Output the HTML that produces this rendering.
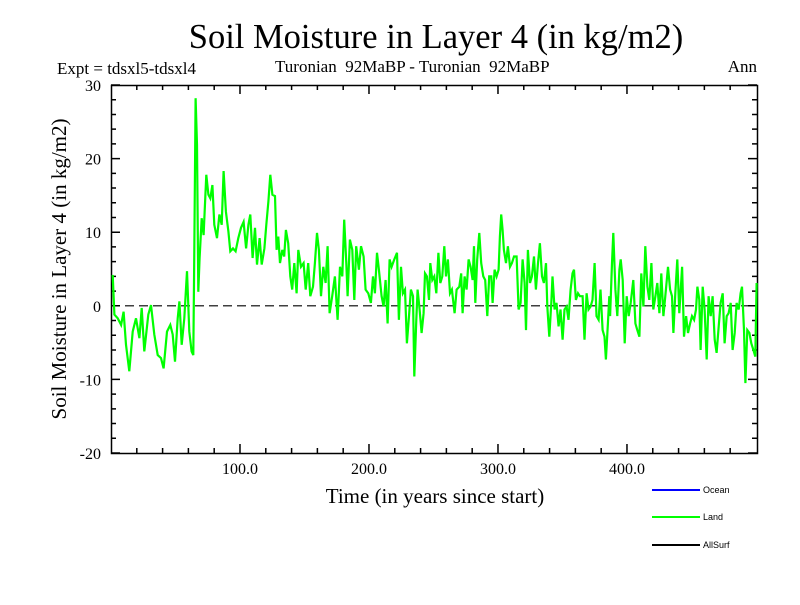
<!DOCTYPE html>
<html><head><meta charset="utf-8"><style>
body{margin:0;background:#fff;}
svg text{font-family:"Liberation Serif",serif;white-space:pre;}
</style></head><body>
<svg id="c" width="800" height="600" viewBox="0 0 800 600" xmlns="http://www.w3.org/2000/svg">
<rect width="800" height="600" fill="#fff"/>
<text x="436" y="48" font-size="34.5" text-anchor="middle">Soil Moisture in Layer 4 (in kg/m2)</text>
<text x="57" y="74" font-size="17">Expt = tdsxl5-tdsxl4</text>
<text x="275" y="72" font-size="17" xml:space="preserve">Turonian  92MaBP - Turonian  92MaBP</text>
<text x="757" y="72" font-size="17" text-anchor="end">Ann</text>
<text x="435" y="503" font-size="21" text-anchor="middle">Time (in years since start)</text>
<text transform="translate(66,269) rotate(-90)" font-size="21" text-anchor="middle">Soil Moisture in Layer 4 (in kg/m2)</text>
<g id="axes"></g>
<g id="series"></g>
<g>
<line x1="652" y1="490" x2="700" y2="490" stroke="#0000ff" stroke-width="2"/>
<text x="703" y="493" font-size="9" style="font-family:'Liberation Sans',sans-serif">Ocean</text>
<line x1="652" y1="517" x2="700" y2="517" stroke="#00ff00" stroke-width="2"/>
<text x="703" y="520" font-size="9" style="font-family:'Liberation Sans',sans-serif">Land</text>
<line x1="652" y1="545" x2="700" y2="545" stroke="#000" stroke-width="2"/>
<text x="703" y="548" font-size="9" style="font-family:'Liberation Sans',sans-serif">AllSurf</text>
</g>
</svg>
<script>
const years=[1.3,2.6,5.2,7.8,9.8,11.6,14.2,16.8,19.4,22.0,23.8,25.8,28.9,31.0,33.6,36.2,38.8,40.8,43.4,46.0,47.8,49.6,51.7,53.0,54.8,56.8,58.9,60.7,62.5,63.8,64.6,65.6,66.7,67.7,68.7,70.3,71.8,73.9,75.5,77.0,78.6,80.1,82.2,84.0,85.8,87.3,89.1,91.0,92.5,94.6,96.6,98.7,100.8,102.8,104.7,106.5,108.0,109.8,111.6,113.2,115.2,116.8,118.9,120.4,122.0,123.5,125.1,
127.1,128.4,129.7,131.0,132.8,134.3,135.6,137.4,139.0,140.5,142.1,143.9,145.2,147.3,149.3,150.9,152.9,154.5,156.6,158.1,159.7,161.2,162.8,164.6,166.4,167.9,169.5,171.5,173.6,175.7,177.5,179.3,180.8,182.4,183.4,185.2,187.1,188.6,190.1,192.2,193.8,195.8,197.4,199.5,201.5,203.1,204.6,206.2,207.7,209.8,211.3,212.9,214.4,216.0,217.5,219.6,221.7,223.2,224.8,226.3,227.9,229.4,231.0,232.5,234.1,235.1,236.7,237.7,239.2,240.8,242.3,243.4,244.9,246.5,247.5,249.1,250.6,252.2,253.8,255.3,256.8,258.4,
259.7,261.2,262.8,264.3,266.4,267.9,270.0,271.5,272.6,274.1,275.7,277.2,278.8,280.3,281.4,282.4,283.9,285.5,287.0,288.6,290.1,291.7,293.2,294.8,295.8,297.4,298.9,300.5,301.5,302.5,303.6,304.6,306.2,307.7,309.3,310.8,312.4,314.4,316.0,317.5,319.1,320.6,321.7,323.2,324.8,326.3,327.9,329.4,331.0,332.5,334.1,335.6,337.2,338.2,339.8,341.3,342.3,343.9,345.4,347.0,348.5,350.1,351.6,353.2,354.7,356.3,357.8,358.9,360.4,362.0,363.5,365.6,367.1,368.7,370.2,371.8,373.3,374.9,376.4,378.0,379.5,381.1,382.6,383.7,385.2,386.3,
386.9,388.4,389.4,391.0,392.5,394.1,395.1,396.7,398.2,399.8,401.3,402.9,404.9,406.5,408.0,409.6,411.1,412.7,414.2,415.8,417.3,418.9,420.4,422.0,423.5,425.1,426.6,428.2,429.7,431.8,433.4,434.9,436.0,437.5,439.0,440.6,442.7,444.2,445.8,447.3,448.9,450.4,452.0,453.5,454.6,456.1,457.1,458.7,460.2,461.8,463.3,464.9,466.4,468.0,469.5,471.1,472.6,474.2,475.7,477.3,478.8,480.4,481.9,483.5,485.0,486.6,488.1,489.2,490.7,491.8,493.3,494.9,496.4,498.0,499.5,500.5];
const values=[4.2,-1.2,-1.7,-2.6,-0.8,-5.3,-8.9,-3.5,-1.7,-4.4,-0.3,-6.2,-1.2,0.1,-3.9,-6.7,-7.1,-8.5,-3.5,-2.6,-3.9,-7.6,-1.7,0.6,-5.3,-1.7,4.7,-3.5,-6.2,-6.7,7.4,28.2,21.9,1.9,6.5,11.9,9.6,17.8,15.1,14.6,16.4,11,9.2,12.4,11,18.3,12.8,10.1,7.4,7.8,7.4,9.2,10.6,11.4,7.8,11,12.4,6.5,10.6,5.6,9.2,5.6,7.8,11,14.2,17.8,15.1,
14.9,7.6,9.4,5.8,7.6,6.7,10.3,8.5,4.0,2.2,5.8,1.7,7.6,5.3,5.8,2.2,5.8,1.3,2.6,5.8,9.9,7.6,1.3,5.3,3.1,8.1,-1,1.3,4,-1.9,5.3,4,11.7,5.8,1.3,9,7.6,0.8,8.1,4.9,8.1,6.7,2.2,1.7,0.4,4,1.7,7.2,4.9,1.3,-0.1,3.5,-2.4,6.3,5.3,6.3,7.2,-1.9,5.3,1.7,2.2,-5.1,-1.4,2.2,1.3,-9.6,-1.9,2.2,-0.5,-3.7,-1,4.4,4,0.8,5.8,3.5,4,1.7,7.2,3.1,4.0,8.1,
4,6.3,1.7,2.2,-1,2.2,2.6,4.4,-1,4,2.2,6.3,5.3,3.5,8.1,0.4,6.3,9.9,5.8,4,3.5,-1.4,4,4,0.4,4.9,4,4.9,9.4,12.4,10.3,7.6,5.8,8.1,5.3,5.8,6.7,6.7,-0.5,0.4,6.3,3.1,-3.3,7.6,3.1,4,6.7,2.2,5.8,8.5,4,3.1,5.8,-0.1,-4.2,0.4,4,-0.5,0.4,-2.8,-0.5,-4.6,-0.5,-0.1,-1.9,2.2,4.4,4.9,0.8,1.7,1.3,1.3,-4.6,1.7,-0.5,-0.1,0.8,5.8,-1.4,-1.9,2.2,-3.3,-4.2,-7.3,-2.4,1.3,
-1.4,5.8,9.9,2.2,-1.4,4.9,6.3,3.5,-5.1,1.3,-1.4,0.4,3.5,-2.4,-3.3,-4.2,4.4,-0.1,8.1,2.6,0.8,5.8,-0.5,1.3,3.1,-1.0,4.4,-1.4,1.3,5.3,2.2,1.3,-3.7,1.7,6.3,-1.0,5.3,-4.2,-1.4,-3.7,-2.4,-1.4,-1.9,-0.5,2.6,0.8,-6.0,2.6,-0.5,-7.3,1.3,-1.4,1.3,-4.6,-6.4,-2.8,0.4,1.7,-5.1,-1.4,-1.0,0.4,-6.0,-3.7,0.4,-0.5,1.7,2.6,-3.3,-10.5,-3.3,-3.7,-5.1,-6.0,-6.9,3.1];
const yTicks=[30,20,10,0,-10,-20];
const xTicks=[100,200,300,400];
const xTickLabels=["100.0","200.0","300.0","400.0"];

const X0=111,X1=757,Y0=85,Y1=453,xMin=0,xMax=500.8,yMin=-20,yMax=30;
function sx(v){return X0+(v-xMin)/(xMax-xMin)*(X1-X0);}
function sy(v){return Y1-(v-yMin)/(yMax-yMin)*(Y1-Y0);}
const NS='http://www.w3.org/2000/svg';
const axes=document.getElementById('axes');
function mk(t,a,p){const e=document.createElementNS(NS,t);for(const k in a)e.setAttribute(k,a[k]);p.appendChild(e);return e;}
let e=mk('rect',{x:X0+0.5,y:Y0+0.5,width:X1-X0,height:Y1-Y0,fill:'none',stroke:'#000','stroke-width':1.5},axes);


for(let v=yMin;v<=yMax;v+=2){const y=sy(v),L=(v%10===0)?9:5;
 e=mk('path',{d:`M${X0} ${y}h${L}M${X1} ${y}h${-L}`,stroke:'#000','stroke-width':1.5},axes);
 
 }
for(let v=20;v<500;v+=20){const x=sx(v),L=(v%100===0)?9:5;
 e=mk('path',{d:`M${x} ${Y1}v${-L}M${x} ${Y0}v${L}`,stroke:'#000','stroke-width':1.5},axes);
 
 }
yTicks.forEach(v=>{e=mk('text',{x:101,y:sy(v)+6,'font-size':16,'text-anchor':'end'},axes);e.textContent=String(v);
 
 });
xTicks.forEach((v,i)=>{e=mk('text',{x:sx(v),y:474,'font-size':16,'text-anchor':'middle'},axes);e.textContent=xTickLabels[i];
 
 });
e=mk('line',{x1:X0,x2:X1,y1:sy(0),y2:sy(0),stroke:'#000','stroke-width':1.2,'stroke-dasharray':'9 5'},axes);


const s=document.getElementById('series');
e=mk('polyline',{points:years.map((y,i)=>sx(y).toFixed(1)+','+sy(values[i]).toFixed(1)).join(' '),fill:'none',stroke:'#00ff00','stroke-width':2.2,'stroke-linejoin':'miter'},s);


</script>
</body></html>
